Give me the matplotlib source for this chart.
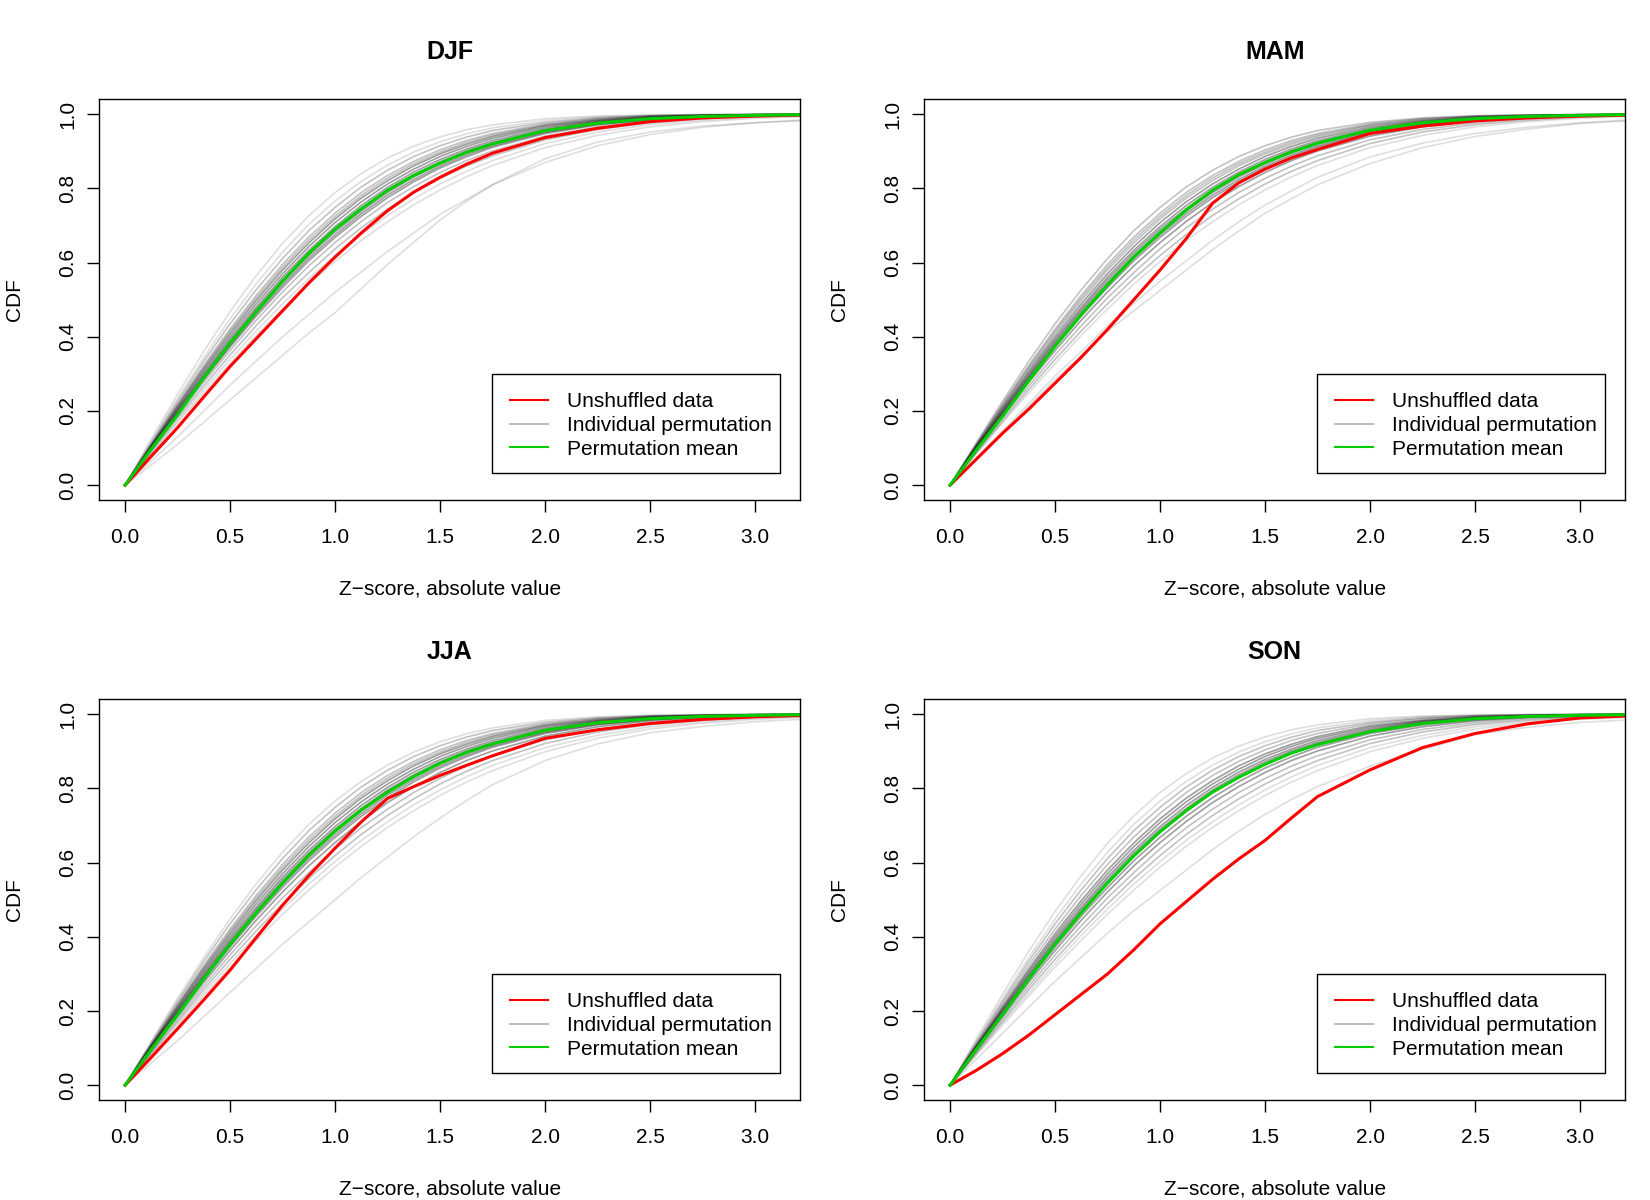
import matplotlib
matplotlib.use("Agg")
import matplotlib.pyplot as plt
from matplotlib.lines import Line2D
from matplotlib.patches import Rectangle

plt.rcParams['font.family'] = ['Liberation Sans', 'DejaVu Sans']

# |Z| values the curves were read at
Z = [0, 0.125, 0.25, 0.375, 0.5, 0.625, 0.75, 0.875, 1.0, 1.125, 1.25, 1.375,
     1.5, 1.625, 1.75, 2.0, 2.25, 2.5, 2.75, 3.0, 3.25]

SEASONS = ['DJF', 'MAM', 'JJA', 'SON']

# ---- unshuffled data (red) ----------------------------------------
DJF_RED = [0, .078, .155, .238, .32, .395, .47, .545, .615, .68, .74, .79, .83, .865, .895, .937, .962, .98, .99, .995, .998]
MAM_RED = [0, .07, .14, .205, .275, .345, .42, .50, .58, .665, .76, .815, .852, .882, .905, .948, .968, .982, .99, .995, .998]
JJA_RED = [0, .075, .152, .23, .31, .398, .485, .565, .639, .71, .773, .805, .835, .862, .888, .935, .958, .975, .986, .993, .997]
SON_RED = [0, .04, .085, .135, .19, .245, .30, .365, .435, .495, .555, .61, .66, .72, .778, .85, .91, .948, .974, .99, .996]

# ---- permutation mean (green) -------------------------------------
DJF_MEAN = [0, .098, .19, .29, .383, .468, .55, .625, .69, .745, .795, .835, .868, .897, .92, .956, .976, .988, .994, .997, .999]
MAM_MEAN = [0, .095, .186, .282, .375, .46, .54, .615, .68, .742, .795, .837, .87, .898, .922, .957, .977, .988, .994, .997, .999]
JJA_MEAN = [0, .097, .19, .287, .38, .465, .545, .62, .685, .742, .79, .832, .868, .897, .92, .957, .977, .988, .994, .997, .999]
SON_MEAN = [0, .097, .19, .287, .38, .465, .545, .618, .683, .74, .79, .83, .865, .895, .918, .953, .975, .988, .994, .997, .999]

# ---- individual permutations (grey), typical curve shapes --------
P01 = [0, .124, .245, .361, .468, .565, .652, .726, .789, .840, .882, .914, .939, .958, .971, .988, .995, .998, .999, 1.0, 1.0]
P02 = [0, .118, .234, .344, .448, .543, .628, .703, .766, .819, .863, .898, .926, .947, .963, .983, .993, .997, .999, 1.0, 1.0]
P03 = [0, .114, .226, .334, .435, .527, .611, .686, .749, .804, .849, .886, .915, .938, .956, .978, .990, .996, .998, .999, 1.0]
P04 = [0, .110, .219, .323, .421, .512, .595, .669, .733, .789, .835, .873, .904, .929, .948, .974, .988, .995, .998, .999, 1.0]
P05 = [0, .108, .215, .318, .415, .505, .587, .661, .725, .781, .828, .867, .898, .924, .944, .971, .986, .994, .997, .999, 1.0]
P06 = [0, .107, .212, .313, .409, .498, .580, .653, .718, .774, .821, .861, .893, .919, .940, .969, .984, .993, .997, .999, 1.0]
P07 = [0, .105, .207, .307, .401, .489, .570, .643, .708, .764, .812, .852, .886, .913, .935, .965, .982, .992, .996, .998, .999]
P08 = [0, .103, .204, .301, .394, .480, .561, .633, .697, .754, .803, .844, .878, .906, .929, .961, .980, .990, .995, .998, .999]
P09 = [0, .101, .200, .296, .388, .474, .554, .626, .690, .746, .796, .837, .872, .901, .924, .957, .978, .989, .995, .997, .999]
P10 = [0, .0995, .197, .292, .383, .468, .547, .619, .683, .739, .789, .831, .866, .896, .920, .954, .976, .988, .994, .997, .999]
P11 = [0, .098, .194, .288, .377, .462, .540, .612, .675, .732, .782, .824, .860, .890, .915, .951, .973, .986, .993, .996, .998]
P12 = [0, .096, .192, .284, .372, .456, .533, .605, .668, .725, .775, .818, .855, .885, .911, .948, .971, .985, .992, .996, .998]
P13 = [0, .094, .186, .277, .363, .445, .521, .591, .654, .711, .762, .805, .843, .875, .901, .941, .966, .982, .991, .995, .998]
P14 = [0, .091, .180, .267, .351, .430, .505, .573, .637, .694, .744, .789, .827, .860, .888, .931, .959, .977, .988, .994, .997]
P15 = [0, .087, .173, .258, .339, .416, .489, .557, .619, .676, .727, .772, .812, .846, .875, .921, .952, .972, .984, .992, .996]
P16 = [0, .084, .168, .249, .328, .404, .475, .542, .603, .660, .710, .756, .796, .831, .862, .910, .943, .966, .980, .989, .994]
P17 = [0, .081, .162, .241, .318, .391, .461, .526, .588, .644, .695, .740, .781, .817, .848, .899, .935, .960, .976, .986, .992]
# slow-rising outliers, per season
DJF_LOW1 = [0, .055, .11, .17, .23, .29, .35, .41, .465, .53, .595, .655, .715, .765, .81, .88, .925, .952, .968, .977, .983]
DJF_LOW2 = [0, .065, .13, .20, .27, .335, .40, .46, .52, .575, .63, .68, .73, .77, .81, .87, .915, .945, .965, .977, .985]
MAM_LOW1 = [0, .07, .14, .213, .285, .35, .415, .47, .525, .58, .635, .685, .733, .772, .81, .867, .91, .94, .96, .975, .983]
MAM_LOW2 = [0, .072, .145, .22, .295, .36, .43, .49, .55, .605, .66, .71, .755, .793, .83, .885, .922, .948, .965, .977, .985]
JJA_LOW1 = [0, .06, .12, .185, .25, .315, .38, .44, .50, .56, .615, .67, .72, .767, .81, .875, .92, .95, .967, .98, .987]
SON_LOW1 = [0, .07, .14, .21, .28, .345, .41, .47, .525, .58, .635, .685, .73, .77, .805, .86, .905, .945, .965, .978, .985]

DJF_PERM = [P01, P02, P03, P04, P05, P06, P07, P08, P09, P10, P11, P12, P13, P14, P15, P16, DJF_LOW2, DJF_LOW1]
MAM_PERM = [P03, P04, P05, P06, P07, P08, P09, P10, P11, P12, P13, P14, P15, P16, MAM_LOW2, MAM_LOW1]
JJA_PERM = [P02, P03, P04, P05, P06, P07, P08, P09, P10, P11, P12, P13, P14, P15, P16, P17, JJA_LOW1]
SON_PERM = [P01, P02, P03, P04, P06, P07, P08, P09, P10, P12, P13, P14, P15, P16, P17, SON_LOW1]

RED = [DJF_RED, MAM_RED, JJA_RED, SON_RED]
MEAN = [DJF_MEAN, MAM_MEAN, JJA_MEAN, SON_MEAN]
PERM = [DJF_PERM, MAM_PERM, JJA_PERM, SON_PERM]

XTICKS = [0.0, 0.5, 1.0, 1.5, 2.0, 2.5, 3.0]
YTICKS = [0.0, 0.2, 0.4, 0.6, 0.8, 1.0]
LABELS = ['Unshuffled data', 'Individual permutation', 'Permutation mean']

c_red = '#ff0000'
c_green = '#00cd00'
fs = 15

fig = plt.figure(figsize=(16.5, 12), dpi=100, facecolor='w')

# axes boxes in figure fractions (left, bottom)
pos = [(0.0602, 0.5833), (0.5602, 0.5833), (0.0602, 0.0833), (0.5602, 0.0833)]

for i, season in enumerate(SEASONS):
    ax = fig.add_axes([pos[i][0], pos[i][1], 0.4247, 0.3339])
    mean1 = MEAN[i][Z.index(1.0)]
    for curve in PERM[i]:
        # overlapping permutations pile up near the mean -> darker there
        d = abs(curve[Z.index(1.0)] - mean1)
        a = 0.38 if d < 0.035 else (0.24 if d < 0.07 else 0.13)
        ax.plot(Z, curve, color='k', alpha=a, lw=1.2, solid_joinstyle='round')
    ax.plot(Z, RED[i], color=c_red, lw=2.2, solid_joinstyle='round')
    ax.plot(Z, MEAN[i], color=c_green, lw=2.2, solid_joinstyle='round')

    ax.set_xlim(-0.1224, 3.214)
    ax.set_ylim(-0.04, 1.04)
    ax.set_xticks(XTICKS)
    ax.set_xticklabels(['%.1f' % t for t in XTICKS])
    ax.set_yticks(YTICKS)
    ax.set_yticklabels(['%.1f' % t for t in YTICKS])
    ax.tick_params(axis='x', length=8.6, width=1.0, pad=11.5, labelsize=fs)
    ax.tick_params(axis='y', length=8.6, width=1.0, pad=7.5, labelsize=fs, labelrotation=90)
    for lab in ax.get_yticklabels():
        lab.set_verticalalignment('center')
    for sp in ax.spines.values():
        sp.set_linewidth(1.0)

    ax.text(0.5, 1.1016, season, transform=ax.transAxes, ha='center', va='baseline',
            fontsize=18, fontweight='bold')
    ax.text(0.5, -0.2346, 'Z\u2212score, absolute value', transform=ax.transAxes,
            ha='center', va='baseline', fontsize=fs)
    ax.text(-0.1129, 0.5, 'CDF', transform=ax.transAxes, ha='center', va='baseline',
            rotation=90, rotation_mode='anchor', fontsize=fs)

    # legend box (R style: wider gap on the left of the keys)
    ax.add_patch(Rectangle((0.560, 0.0666), 0.4115, 0.2478, transform=ax.transAxes,
                           facecolor='w', edgecolor='k', lw=1.0, zorder=4.9))
    handles = [Line2D([], [], color=c_red, lw=1.5),
               Line2D([], [], color='#bebebe', lw=1.5),
               Line2D([], [], color=c_green, lw=1.5)]
    leg = ax.legend(handles, LABELS, loc='upper left', bbox_to_anchor=(0.5861, 0.2685),
                    borderaxespad=0, borderpad=0, frameon=False, fontsize=fs,
                    handlelength=1.81, handletextpad=0.94, labelspacing=0.22)
    leg.set_zorder(5)

fig.savefig('out.png', dpi=100, facecolor='w')
